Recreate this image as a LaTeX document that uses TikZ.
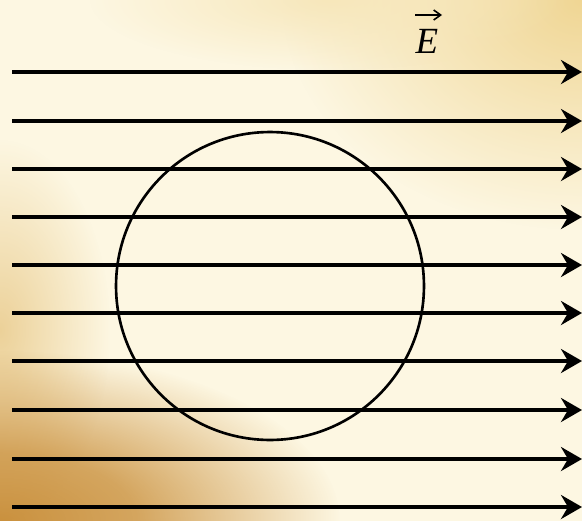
\documentclass[tikz,border=0pt]{standalone}
\usepackage{fontspec}
\setmainfont{Liberation Serif}
\usetikzlibrary{arrows.meta,fadings}
\definecolor{bgcream}{RGB}{253,247,226}
\definecolor{bgtop}{RGB}{240,214,148}
\definecolor{bgside}{RGB}{232,200,135}
\definecolor{bgdark}{RGB}{202,145,62}
\tikzfading[name=glow,inner color=transparent!0,outer color=transparent!100]
\pgfdeclareradialshading{softglowshade}{\pgfpointorigin}{color(0bp)=(white); color(10bp)=(white!80!black); color(25bp)=(black); color(50bp)=(black)}
\pgfdeclarefading{softglow}{\pgfuseshading{softglowshade}}

\begin{document}
\begin{tikzpicture}[x=0.02cm,y=-0.02cm,
  field/.style={line width=2.2pt,-{Stealth[length=0.42cm,width=0.48cm,inset=0.14cm]}},
  ball/.style={draw,circle,line width=1.5pt,minimum size=6.16cm,inner sep=0pt}]
\useasboundingbox (0,0) rectangle (582,521);
% background
\fill[bgcream] (0,0) rectangle (582,521);
\fill[bgtop,path fading=glow] (582,0) ellipse (300 and 230);
\fill[bgtop!50!bgcream,path fading=glow] (330,0) ellipse (240 and 70);
\fill[bgside,path fading=glow,fill opacity=0.8] (0,330) ellipse (110 and 190);
\fill[bgdark,path fading=softglow] (0,521) ellipse (340 and 170);
% field lines
\coordinate (l1) at (12,72);   \coordinate (r1) at (582,72);
\coordinate (l2) at (12,121);  \coordinate (r2) at (582,121);
\coordinate (l3) at (12,169);  \coordinate (r3) at (582,169);
\coordinate (l4) at (12,217);  \coordinate (r4) at (582,217);
\coordinate (l5) at (12,265);  \coordinate (r5) at (582,265);
\coordinate (l6) at (12,313);  \coordinate (r6) at (582,313);
\coordinate (l7) at (12,361);  \coordinate (r7) at (582,361);
\coordinate (l8) at (12,410);  \coordinate (r8) at (582,410);
\coordinate (l9) at (12,459);  \coordinate (r9) at (582,459);
\coordinate (l10) at (12,507); \coordinate (r10) at (582,507);
\draw[field] (l1)--(r1);
\draw[field] (l2)--(r2);
\draw[field] (l3)--(r3);
\draw[field] (l4)--(r4);
\draw[field] (l5)--(r5);
\draw[field] (l6)--(r6);
\draw[field] (l7)--(r7);
\draw[field] (l8)--(r8);
\draw[field] (l9)--(r9);
\draw[field] (l10)--(r10);
% sphere
\node[ball] (s) at (270,286) {};
% field label
\node[font=\fontsize{21}{24}\selectfont\itshape,inner sep=0pt] (E) at (427,41) {E};
\coordinate (ea) at (415,15);
\coordinate (eb) at (442,15);
\draw[line width=0.9pt,-{Straight Barb[length=0.14cm,width=0.2cm]}] (ea)--(eb);
\end{tikzpicture}
\end{document}
